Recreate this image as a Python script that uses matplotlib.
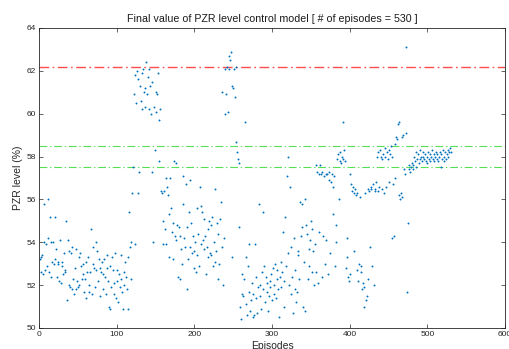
"""
final PZR level per episode, redrawn in the look of the matlab figure
"""

import numpy as np
import matplotlib
matplotlib.use("Agg")
import matplotlib.pyplot as plt

# final pzr level (%) of every episode in chunks
level_001_120 = [
    53.2, 53.3, 52.6, 53.4, 52.5, 55.8, 54.0, 52.7, 53.9, 52.9,
    56.0, 54.2, 52.6, 55.2, 52.4, 54.0, 53.1, 54.0, 53.0, 55.2,
    53.2, 53.7, 52.4, 53.1, 53.0, 52.2, 54.1, 52.1, 53.1, 52.9,
    52.5, 53.5, 52.6, 52.7, 55.0, 51.3, 54.1, 52.0, 53.6, 51.9,
    53.5, 51.8, 53.8, 52.3, 51.6, 52.8, 51.8, 53.7, 52.2, 51.9,
    53.3, 52.0, 53.5, 52.9, 52.3, 52.5, 53.0, 51.7, 52.3, 53.1,
    51.4, 52.6, 53.3, 51.7, 52.0, 52.6, 54.6, 51.6, 53.0, 53.8,
    52.8, 51.9, 54.0, 52.7, 53.6, 52.2, 53.2, 52.8, 51.5, 52.6,
    53.1, 51.8, 52.5, 53.2, 52.4, 51.6, 52.8, 53.4, 52.2, 51.0,
    52.9, 50.9, 51.9, 53.3, 52.7, 51.6, 52.1, 53.5, 51.4, 52.2,
    52.7, 51.2, 52.5, 51.9, 53.4, 52.3, 51.7, 50.9, 52.6, 52.0,
    53.1, 52.4, 51.8, 50.9, 53.3, 55.4, 53.8, 52.3, 54.0, 56.3,
]
level_121_240 = [
    57.5, 60.9, 53.9, 61.8, 60.5, 62.0, 61.6, 56.3, 57.3, 61.3,
    60.6, 61.9, 60.2, 62.1, 61.0, 60.3, 61.2, 62.4, 60.9, 61.7,
    60.2, 62.1, 61.3, 60.0, 61.5, 57.3, 54.0, 60.3, 58.3, 61.0,
    60.1, 60.9, 61.9, 59.7, 57.8, 60.2, 56.4, 56.3, 53.9, 55.0,
    56.4, 54.6, 57.0, 53.9, 56.6, 56.2, 53.3, 55.3, 57.0, 55.6,
    54.5, 54.9, 53.2, 57.8, 54.3, 57.7, 54.1, 54.8, 52.4, 54.7,
    54.3, 52.3, 53.7, 53.0, 57.1, 55.8, 54.2, 53.8, 56.7, 51.8,
    54.7, 53.2, 55.4, 56.9, 53.8, 54.9, 53.5, 54.3, 52.8, 53.6,
    54.0, 52.6, 55.6, 53.4, 54.4, 52.9, 56.6, 55.7, 53.9, 55.4,
    54.1, 55.1, 53.7, 54.3, 52.5, 53.8, 54.6, 53.3, 55.0, 53.5,
    54.8, 53.4, 55.2, 52.9, 54.0, 53.1, 56.5, 53.6, 54.9, 52.3,
    54.4, 53.0, 55.1, 55.9, 61.0, 53.8, 52.0, 54.2, 60.0, 62.1,
]
level_241_360 = [
    60.9, 62.2, 60.1, 62.1, 62.7, 62.5, 62.9, 53.3, 61.3, 61.2,
    62.1, 60.8, 62.2, 58.7, 58.2, 57.9, 54.7, 57.7, 51.0, 50.4,
    52.5, 51.6, 51.5, 52.3, 59.6, 53.3, 51.1, 50.6, 52.9, 53.9,
    51.7, 50.8, 51.3, 52.1, 51.6, 50.5, 50.6, 53.9, 51.4, 52.4,
    50.7, 51.9, 55.8, 51.5, 52.0, 50.9, 52.6, 55.4, 51.8, 52.9,
    51.2, 52.4, 51.7, 52.1, 50.8, 51.5, 52.2, 51.9, 52.5, 51.3,
    52.8, 51.6, 52.0, 53.0, 51.4, 52.3, 52.7, 51.8, 50.5, 52.4,
    53.1, 51.9, 52.6, 54.5, 52.2, 51.0, 55.2, 52.9, 57.1, 53.5,
    58.0, 52.0, 56.6, 51.6, 53.8, 52.4, 50.7, 54.2, 52.7, 51.8,
    51.2, 51.7, 53.4, 53.6, 52.3, 55.9, 54.3, 55.8, 54.7, 51.0,
    53.1, 50.8, 56.0, 54.8, 54.4, 52.3, 53.7, 52.9, 54.1, 55.0,
    54.6, 52.6, 53.6, 52.0, 53.9, 52.6, 57.6, 57.3, 52.1, 57.2,
]
level_361_480 = [
    54.5, 57.6, 57.2, 52.4, 57.3, 54.3, 57.1, 53.0, 57.2, 54.1,
    57.2, 52.5, 57.3, 56.9, 53.5, 56.8, 57.2, 55.3, 56.6, 57.1,
    52.9, 54.0, 54.8, 57.9, 58.1, 56.0, 57.8, 58.2, 57.7, 58.0,
    57.9, 59.6, 58.3, 57.8, 52.8, 54.2, 53.3, 52.4, 52.2, 57.2,
    52.5, 56.7, 56.4, 56.6, 56.3, 53.6, 56.5, 56.2, 52.7, 56.3,
    52.2, 53.0, 56.1, 52.6, 52.9, 51.8, 52.1, 51.0, 51.9, 56.3,
    51.3, 51.5, 56.5, 52.3, 56.4, 53.8, 56.6, 56.5, 52.9, 56.7,
    52.0, 56.4, 56.5, 56.8, 58.0, 56.4, 58.2, 56.6, 58.3, 58.0,
    56.5, 57.9, 58.1, 56.3, 58.4, 58.0, 56.6, 58.2, 57.9, 58.3,
    56.8, 58.1, 58.5, 54.2, 58.0, 56.7, 54.3, 58.6, 57.0, 58.9,
    58.8, 59.5, 59.6, 56.2, 56.0, 56.3, 56.1, 58.9, 59.0, 57.4,
    57.2, 59.1, 63.1, 51.7, 54.9, 57.4, 57.6, 57.3, 57.5, 57.7,
]
level_481_530 = [
    57.4, 57.6, 58.0, 57.8, 57.5, 58.2, 57.9, 58.1, 57.7, 58.3,
    57.9, 58.0, 57.8, 58.2, 58.0, 57.9, 58.1, 57.8, 57.7, 58.0,
    58.2, 57.9, 58.1, 57.8, 58.0, 58.3, 57.9, 58.1, 57.8, 58.0,
    58.2, 57.9, 58.1, 57.8, 58.0, 58.2, 57.5, 58.1, 57.9, 58.3,
    58.0, 57.8, 58.2, 57.9, 58.1, 58.0, 58.3, 58.2, 58.4, 58.2,
]

# reference lines drawn across the plot
upper_limit = 62.2
band_high = 58.5
band_low = 57.5

level = np.array(level_001_120 + level_121_240 + level_241_360
                 + level_361_480 + level_481_530)
episodes = np.arange(1, len(level) + 1)

plt.rcParams['font.family'] = ['Liberation Sans', 'DejaVu Sans']
axis_grey = '#262626'
dash_dot = (0, (7, 2.5, 1.2, 2.5))

fig = plt.figure(figsize=(5.10, 3.49), dpi=100)
ax = fig.add_axes([0.0765, 0.0602, 0.9137, 0.8596])

ax.axhline(upper_limit, color='#ff2020', linestyle=dash_dot, linewidth=1.0, alpha=0.8)
ax.axhline(band_high, color='#55e055', linestyle=dash_dot, linewidth=0.8)
ax.axhline(band_low, color='#55e055', linestyle=dash_dot, linewidth=0.8)

ax.plot(episodes, level, linestyle='none', marker='o', markersize=1.4,
        markeredgewidth=0, color='#0072bd')

ax.set_xlim(0, 600)
ax.set_ylim(50, 64)
ax.set_xticks(np.arange(0, 601, 100))
ax.set_yticks(np.arange(50, 65, 2))

for side in ['left', 'right', 'top', 'bottom']:
    ax.spines[side].set_color(axis_grey)
    ax.spines[side].set_linewidth(0.6)
ax.tick_params(direction='in', top=True, right=True, length=3, width=0.5,
               colors=axis_grey, labelsize=6, pad=2)

ax.set_title('Final value of PZR level control model [ # of episodes = 530 ]',
             fontsize=7.7, color='#1a1a1a', pad=4)
ax.set_xlabel('Episodes', fontsize=7.5, color=axis_grey, labelpad=2)
ax.set_ylabel('PZR level (%)', fontsize=7.5, color=axis_grey, labelpad=3)

fig.savefig('out.png', dpi=100)
